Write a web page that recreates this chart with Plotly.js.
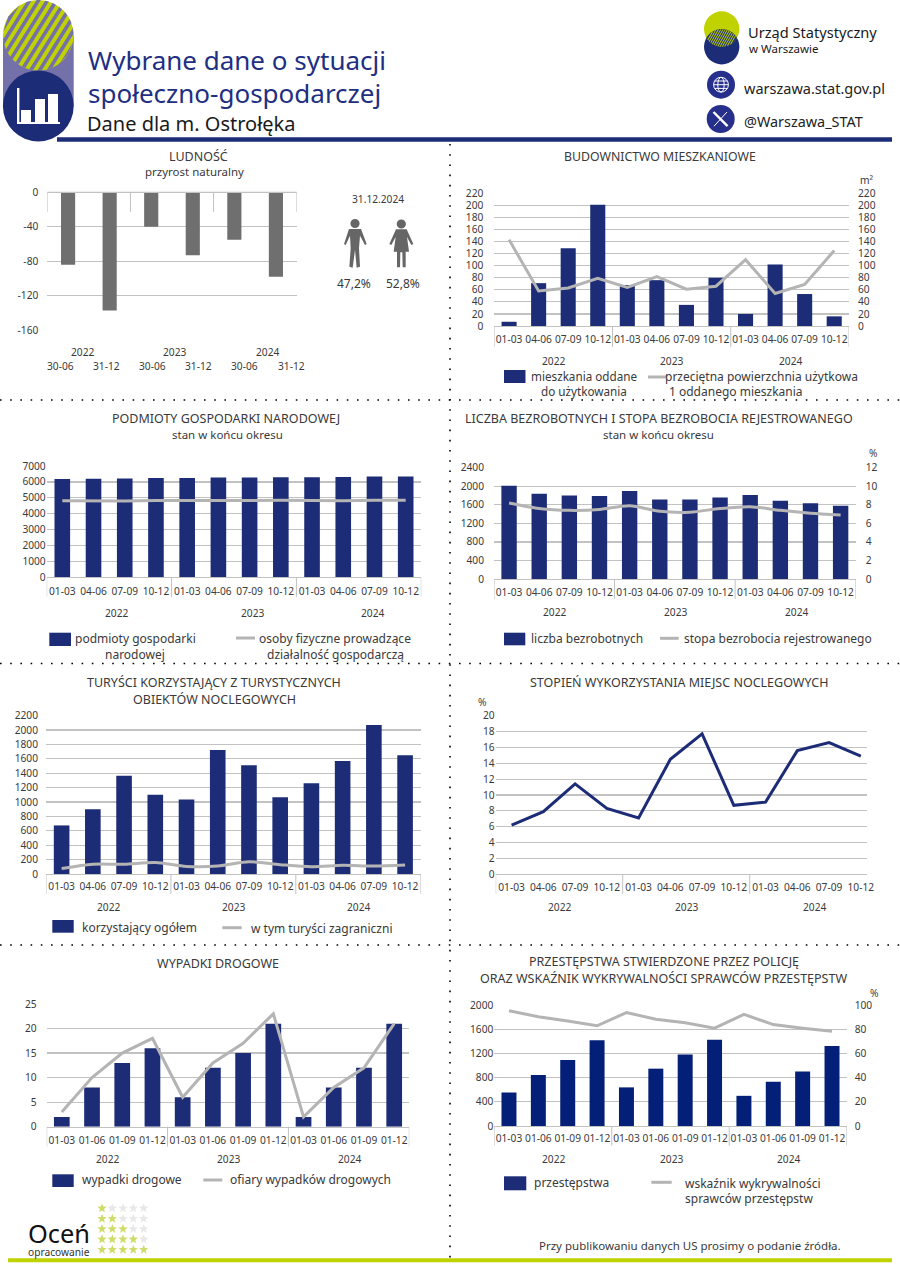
<!DOCTYPE html>
<html><head><meta charset="utf-8">
<script src="https://cdn.plot.ly/plotly-3.0.1.min.js"></script>
<style>html,body{margin:0;padding:0;background:#fff}</style></head>
<body><div id="chart" style="width:900px;height:1273px"></div>
<script>
// ---------- data ----------
const years = ['2022','2023','2024'];
const quarters = ['01-03','04-06','07-09','10-12'];
const cumulative = ['01-03','01-06','01-09','01-12'];
const halves = ['30-06','31-12'];
const populationTicks = [-160,-120,-80,-40,0];
const populationTickText = ['-160','-120','-80','-40','0'];

const naturalIncrease = [-84,-137,-40,-73,-55,-98];
const dwellings = [7,71,129,201,68,76,35,80,20,102,53,16];
const avgArea = [143,58,63,79,64,82,61,66,110,54,69,125];
const entities = [6190,6200,6220,6250,6250,6270,6280,6300,6300,6310,6340,6340];
const selfEmployed = [4810,4800,4800,4830,4820,4830,4830,4840,4810,4820,4850,4850];
const unemployed = [2010,1840,1800,1790,1895,1715,1715,1760,1810,1685,1635,1580];
const unemploymentRate = [8.2,7.6,7.4,7.5,7.9,7.3,7.2,7.6,7.8,7.4,7.1,6.9];
const tourists = [675,900,1365,1100,1035,1725,1510,1065,1260,1570,2070,1650];
const foreignTourists = [75,135,135,160,105,110,170,130,100,120,110,125];
const occupancy = [6.2,7.9,11.4,8.3,7.1,14.5,17.7,8.7,9.1,15.6,16.6,14.9];
const accidents = [2,8,13,16,6,12,15,21,2,8,12,21];
const victims = [3,10,15,18,6,13,17,23,2,8,12,21];
const crimes = [555,845,1095,1420,640,950,1185,1430,500,735,905,1325];
const detection = [95.5,90.5,87,83,94,88.5,85.5,81,92.5,84,81,78.5];

// ---------- styles ----------
const FONT = '"Noto Sans", sans-serif';
const TXT = '#3a3a3a', NAVY = '#1d2c77', NAVY2 = '#031f77', GREY = '#b4b4b4', BARGREY = '#6f6f6f',
      GRID = '#c2c2c2', GREEN = '#c0d200', PURPLE = '#7470aa';
const TICK = 10.2;
const px = x => x/900, py = y => 1-y/1273;

const data = [], shapes = [], annotations = [];
const layout = {width:900,height:1273,margin:{l:0,r:0,t:0,b:0,pad:0},paper_bgcolor:'#fff',plot_bgcolor:'rgba(0,0,0,0)',
  showlegend:false,hovermode:false,font:{family:FONT,color:TXT,size:TICK},shapes,annotations};

function text(t,x,y,size,o={}){
  annotations.push(Object.assign({text:t,xref:'paper',yref:'paper',x:px(x),y:py(y),showarrow:false,xanchor:'center',yanchor:'middle',
    font:{family:FONT,size:size,color:o.color||TXT},align:o.align||'center',borderpad:0},o.anchor?{xanchor:o.anchor}:{}));
}
function rect(x0,y0,x1,y1,fill){shapes.push({type:'rect',xref:'paper',yref:'paper',x0:px(x0),x1:px(x1),y0:py(y0),y1:py(y1),fillcolor:fill,line:{width:0}});}
function circle(cx,cy,r,fill,line){shapes.push({type:'circle',xref:'paper',yref:'paper',x0:px(cx-r),x1:px(cx+r),y0:py(cy-r),y1:py(cy+r),fillcolor:fill,line:line||{width:0}});}
function seg(x0,y0,x1,y1,color,w,dash){shapes.push({type:'line',xref:'paper',yref:'paper',x0:px(x0),x1:px(x1),y0:py(y0),y1:py(y1),line:{color:color,width:w,dash:dash||'solid'}});}
function poly(pts,fill,close=true){shapes.push({type:'path',xref:'paper',yref:'paper',path:'M'+pts.map(p=>px(p[0])+','+py(p[1])).join('L')+(close?'Z':''),fillcolor:fill,line:{width:0}});}

// panel: category plot positioned in pixels (y0 = top edge, y1 = bottom edge)
function panel(n,o){
  const keys = o.keys;
  const xk = 'xaxis'+(n===1?'':n), yk = 'yaxis'+(n===1?'':n);
  const xid = 'x'+(n===1?'':n), yid = 'y'+(n===1?'':n);
  layout[xk] = {domain:[px(o.x0),px(o.x1)],anchor:yid,type:'category',categoryorder:'array',categoryarray:keys,
    range:o.xrange||[-0.5,keys.length-0.5],autorange:false,tickmode:'array',tickvals:keys,ticktext:o.ticktext||[],
    showticklabels:!!o.ticktext,tickangle:0,ticks:'',ticklabelstandoff:o.xstand===undefined?4:o.xstand,showgrid:false,zeroline:false,
    showline:true,linecolor:GRID,linewidth:1,tickfont:{family:FONT,size:TICK,color:TXT},fixedrange:true};
  layout[yk] = {domain:[py(o.y1),py(o.y0)],anchor:xid,range:o.range,autorange:false,dtick:o.dtick,tick0:0,showgrid:true,gridcolor:GRID,gridwidth:1.2,
    zeroline:false,showline:false,ticks:'',ticklabelstandoff:o.ystand,tickfont:{family:FONT,size:TICK,color:TXT},fixedrange:true,tickformat:'d'};
  if(o.rightRange){
    const r = n+8;
    layout['yaxis'+r] = {domain:[py(o.y1),py(o.y0)],anchor:xid,overlaying:yid,side:'right',range:o.rightRange,autorange:false,dtick:o.rightDtick,tick0:0,
      showgrid:false,zeroline:false,showline:false,ticks:'',ticklabelstandoff:o.rstand,tickfont:{family:FONT,size:TICK,color:TXT},fixedrange:true,tickformat:'d'};
  }
  if(o.bars) data.push({type:'bar',name:o.barName,x:keys,y:o.bars,xaxis:xid,yaxis:yid,width:o.barW,marker:{color:o.barColor||NAVY,line:{width:0}}});
  if(o.line) data.push({type:'scatter',mode:'lines',name:o.lineName,x:keys,y:o.line,xaxis:xid,yaxis:o.rightRange?('y'+(n+8)):yid,
    line:{color:o.lineColor||GREY,width:o.lineW||3,shape:o.spline?'spline':'linear',smoothing:o.spline?0.8:undefined}});
  // year separators hanging under the axis
  (o.seps||[]).forEach(s=>{
    shapes.push({type:'line',xref:xid,yref:'paper',x0:s,x1:s,y0:py(o.y1),y1:py(o.sepTo),line:{color:GRID,width:1}});
  });
  (o.yearX||[]).forEach((x,i)=>text(years[i],x,o.yearY,TICK));
}
const qKeys = lab => years.flatMap(y=>lab.map(q=>y+' '+q));
const rep = lab => years.flatMap(()=>lab);
const SEPS = [-0.5,3.5,7.5,11.5];

// 1 Ludnosc
panel(1,{keys:years.flatMap(y=>halves.map(h=>y+' '+h)),x0:47.3,x1:296.7,y0:192.3,y1:330.3,range:[-160,0],dtick:40,ystand:8,
  bars:naturalIncrease,barName:'przyrost naturalny',barColor:BARGREY,barW:0.34});
layout.xaxis.showline=false;
Object.assign(layout.yaxis,{tickmode:'array',tickvals:populationTicks,ticktext:populationTickText});
[-0.5,1.5,3.5,5.5].forEach(s=>shapes.push({type:'line',xref:'x',yref:'paper',x0:s,x1:s,y0:py(192.3),y1:py(212),line:{color:GRID,width:1}}));
seg(47.3,192.3,296.7,192.3,GRID,1.2);
[82.7,174.7,267].forEach((x,i)=>text(years[i],x,351.7,TICK));
[60,106.7,152,198.7,244.3,291].forEach((x,i)=>text(halves[i%2],x,366.3,TICK));

// 2 Budownictwo
panel(2,{keys:qKeys(quarters),ticktext:rep(quarters),x0:494.3,x1:849,y0:193.3,y1:326,range:[0,220],dtick:20,ystand:10,rightRange:[0,220],rightDtick:20,rstand:8,
  bars:dwellings,barName:'mieszkania oddane do użytkowania',barW:0.51,line:avgArea,lineName:'przeciętna powierzchnia użytkowa 1 oddanego mieszkania',
  seps:SEPS,sepTo:347,yearX:[553.7,671.7,790],yearY:361});
// 3 Podmioty
panel(3,{keys:qKeys(quarters),ticktext:rep(quarters),x0:46.7,x1:421.3,y0:466,y1:577.3,range:[0,7000],dtick:1000,ystand:8.4,
  bars:entities,barName:'podmioty gospodarki narodowej',barW:0.5,line:selfEmployed,lineName:'osoby fizyczne prowadzące działalność gospodarczą',
  seps:SEPS,sepTo:596.7,yearX:[116,252,372],yearY:612.7});
// 4 Bezrobocie
panel(4,{keys:qKeys(quarters),ticktext:rep(quarters),x0:494,x1:855.7,y0:467.7,y1:579,range:[0,2400],dtick:400,ystand:9,rightRange:[0,12],rightDtick:2,rstand:9,
  bars:unemployed,barName:'liczba bezrobotnych',barW:0.51,line:unemploymentRate,lineName:'stopa bezrobocia rejestrowanego',spline:true,
  seps:SEPS,sepTo:599,yearX:[554.7,675,796],yearY:612});
// 5 Turysci
panel(5,{keys:qKeys(quarters),ticktext:rep(quarters),xstand:3,x0:46,x1:420.7,y0:715.7,y1:874,range:[0,2200],dtick:200,ystand:7,
  bars:tourists,barName:'korzystający ogółem',barW:0.5,line:foreignTourists,lineName:'w tym turyści zagraniczni',spline:true,
  seps:SEPS,sepTo:894,yearX:[108.7,233.3,358.7],yearY:907.3});
// 6 Oblozenie
panel(6,{keys:qKeys(quarters),ticktext:rep(quarters),xstand:3,x0:495.7,x1:866.7,xrange:[-0.5,11.185],y0:715.7,y1:874.3,range:[0,20],dtick:2,ystand:9.7,
  line:occupancy,lineName:'stopień wykorzystania miejsc noclegowych',lineColor:NAVY,
  seps:[-0.5,3.5,7.5],sepTo:894,yearX:[559.3,686.7,814],yearY:906.7});
// 7 Wypadki
panel(7,{keys:qKeys(cumulative),ticktext:rep(cumulative),x0:46.7,x1:409.3,y0:1004,y1:1126.7,range:[0,25],dtick:5,ystand:9,
  bars:accidents,barName:'wypadki drogowe',barW:0.52,line:victims,lineName:'ofiary wypadków drogowych',
  seps:SEPS,sepTo:1146.7,yearX:[107.3,228.7,349.7],yearY:1159.3});
// 8 Przestepstwa
panel(8,{keys:qKeys(cumulative),ticktext:rep(cumulative),xstand:3,x0:494.3,x1:846.7,y0:1005.3,y1:1126,range:[0,2000],dtick:400,ystand:9.3,rightRange:[0,100],rightDtick:20,rstand:7,
  bars:crimes,barName:'przestępstwa',barColor:NAVY2,barW:0.51,line:detection,lineName:'wskaźnik wykrywalności sprawców przestępstw',
  seps:SEPS,sepTo:1145.7,yearX:[553.3,671,788.7],yearY:1158.7});

// ---------- titles ----------
const T=12.5, S=11.5, L=12;
text('LUDNOŚĆ',198.7,156,T); text('przyrost naturalny',194.7,172,S);
text('BUDOWNICTWO MIESZKANIOWE',660,156,12.3);
text('m²',867.3,180.5,TICK);
text('PODMIOTY GOSPODARKI NARODOWEJ',226,418.3,T); text('stan w końcu okresu',227,434,S);
text('LICZBA BEZROBOTNYCH I STOPA BEZROBOCIA REJESTROWANEGO',659,418.3,T); text('stan w końcu okresu',658.7,434,S);
text('%',873,453,TICK);
text('TURYŚCI KORZYSTAJĄCY Z TURYSTYCZNYCH',214,682.3,T); text('OBIEKTÓW NOCLEGOWYCH',214,699,T);
text('STOPIEŃ WYKORZYSTANIA MIEJSC NOCLEGOWYCH',679,682.3,T);
text('%',482.3,701.7,TICK);
text('WYPADKI DROGOWE',217.7,963,T);
text('PRZESTĘPSTWA STWIERDZONE PRZEZ POLICJĘ',664,961.7,T);
text('ORAZ WSKAŹNIK WYKRYWALNOŚCI SPRAWCÓW PRZESTĘPSTW',663.7,978.3,T);
text('%',873.7,992.7,TICK);
text('Przy publikowaniu danych US prosimy o podanie źródła.',690.3,1245,11.5);

// ---------- legends ----------
function swatch(x0,y0,x1,y1,c){rect(x0,y0,x1,y1,c||NAVY);}
function ll(x0,x1,y){seg(x0,y,x1,y,GREY,3);}
swatch(504,370,525.5,383); text('mieszkania oddane',583.7,376,11.7); text('do użytkowania',583.7,391,11.7);
ll(648,667,377); text('przeciętna powierzchnia użytkowa',761.5,376,L); text('1 oddanego mieszkania',736,391,L);
swatch(49.3,632.7,71,646); text('podmioty gospodarki',135,639,L); text('narodowej',135,654,L);
ll(236,255,638); text('osoby fizyczne prowadzące',335,639,L); text('działalność gospodarczą',335,654,L);
swatch(504,632.7,525.3,645.3); text('liczba bezrobotnych',586.7,639,L);
ll(660,678.7,638.3); text('stopa bezrobocia rejestrowanego',778,638.5,L);
swatch(52.3,920,73.7,932.7); text('korzystający ogółem',139.3,927.7,L);
ll(222.3,241.7,927.7); text('w tym turyści zagraniczni',321.7,929,L);
swatch(52.3,1174.3,73.7,1187); text('wypadki drogowe',132,1179.3,L);
ll(203.3,222.3,1180); text('ofiary wypadków drogowych',310.3,1179.3,L);
swatch(504,1176.3,526.3,1190.3,NAVY); text('przestępstwa',571.8,1182,L);
ll(651.3,671.7,1182.3); text('wskaźnik wykrywalności',684.3,1183.7,L,{anchor:'left'}); text('sprawców przestępstw',684.3,1198.3,L,{anchor:'left'});

// ---------- dividers ----------
seg(450,144,450,1262,'#000',1.6,'1.6px,8.6px');
[400,663.5,945].forEach(y=>seg(0,y,900,y,'#000',1.6,'1.6px,8.6px'));
rect(57,137.3,892,141.7,NAVY);
rect(8,1258.3,892,1262.3,GREEN);

// ---------- header graphics ----------
function stripes(cx,cy,r,period,w,color,angleDeg){
  const a=angleDeg*Math.PI/180, dx=Math.cos(a), dy=-Math.sin(a), nx=-dy, ny=dx;
  for(let d=-r;d<r;d+=period){
    const d2=Math.min(d+w,r);
    const h1=Math.sqrt(Math.max(r*r-d*d,0)), h2=Math.sqrt(Math.max(r*r-d2*d2,0));
    poly([[cx+nx*d-dx*h1,cy+ny*d-dy*h1],[cx+nx*d+dx*h1,cy+ny*d+dy*h1],[cx+nx*d2+dx*h2,cy+ny*d2+dy*h2],[cx+nx*d2-dx*h2,cy+ny*d2-dy*h2]],color);
  }
}
rect(3,35,73.7,106,PURPLE);
circle(38.3,35.3,35.3,GREEN);
stripes(38.3,35.3,35.3,7.6,3.6,PURPLE,58);
circle(38.3,106,35.4,NAVY);
rect(17,88,19.4,124,'#fff'); rect(17,122,60,124,'#fff');
rect(21,110,31,122,'#fff'); rect(35,99,45,122,'#fff'); rect(48,94,58,122,'#fff');
text('Wybrane dane o sytuacji',87,60.5,26,{anchor:'left',color:'#1f2f82'});
text('społeczno-gospodarczej',87,93,26,{anchor:'left',color:'#1f2f82'});
text('Dane dla m. Ostrołęka',86,123.5,20,{anchor:'left',color:'#1a1a1a'});

// logo: two overlapping circles with a hatched overlap
const LX=721.7, LTOP=29, LBOT=46.7, LR=17.7;
circle(LX,LBOT,LR,NAVY);
circle(LX,LTOP,LR,GREEN);
const hw=Math.sqrt(LR*LR-(LBOT-LTOP)*(LBOT-LTOP)/4), lens=[];
for(let i=0;i<=24;i++){const x=LX+(-1+i/12)*hw;lens.push([x,LBOT-Math.sqrt(LR*LR-(x-LX)*(x-LX))]);}
for(let i=24;i>=0;i--){const x=LX+(-1+i/12)*hw;lens.push([x,LTOP+Math.sqrt(LR*LR-(x-LX)*(x-LX))]);}
poly(lens,NAVY);
const inLens=(x,y)=>Math.hypot(x-LX,y-LTOP)<=LR && Math.hypot(x-LX,y-LBOT)<=LR;
for(let c=LX-34;c<LX+34;c+=2.3){
  const ends=off=>{const pts=[];for(let t=-24;t<=24;t+=0.25){const x=c+off+t*0.5,y=(LTOP+LBOT)/2-t*0.866;if(inLens(x,y))pts.push([x,y]);}return pts;};
  const a=ends(0), b=ends(1.1);
  if(a.length>1&&b.length>1) poly([a[0],a[a.length-1],b[b.length-1],b[0]],GREEN);
}
text('Urząd Statystyczny',747.3,31.5,14.6,{anchor:'left',color:'#1a1a1a'});
text('w Warszawie',747.5,48,11.5,{anchor:'left',color:'#1a1a1a'});
circle(721,84.7,14,'#262f8c');
circle(721,84.7,7.4,'rgba(0,0,0,0)',{color:'#fff',width:1});
shapes.push({type:'circle',xref:'paper',yref:'paper',x0:px(717.8),x1:px(724.2),y0:py(77.3),y1:py(92.1),line:{color:'#fff',width:1}});
seg(713.6,84.7,728.4,84.7,'#fff',1); seg(714.6,81,727.4,81,'#fff',1); seg(714.6,88.4,727.4,88.4,'#fff',1);
text('warszawa.stat.gov.pl',742.7,87.7,14.5,{anchor:'left',color:'#222'});
circle(720.7,119,14,'#262f8c');
seg(713.5,112,727.5,126.2,'#fff',2.4); seg(727,112,714,126.2,'#fff',1);
text('@Warszawa_STAT',742.7,121.7,14.4,{anchor:'left',color:'#222'});

// people
const zp=pts=>pts.map(p=>[335+p[0]/3,215+p[1]/3]);
circle(355,223.5,4.6,'#666');
poly(zp([[27,87],[42,42],[78,42],[95,87],[90,90],[75,62],[72,100],[75,155],[65,158],[60,105],[53,158],[43,155],[47,100],[45,62],[32,90]]),'#666');
circle(401.3,224,4.6,'#666');
poly(zp([[183,43],[215,43],[235,87],[229,90],[216,66],[222,110],[212,110],[212,157],[203,157],[202,112],[196,112],[195,157],[186,157],[186,110],[176,110],[182,66],[169,90],[163,87]]),'#666');
text('31.12.2024',377.7,199.3,10.2);
text('47,2%',353.7,284,12); text('52,8%',402.7,284,12);

// ocen + stars
function star(cx,cy,r,c){const p=[];for(let i=0;i<10;i++){const a=-Math.PI/2+i*Math.PI/5,q=i%2?r*0.42:r;p.push([cx+q*Math.cos(a),cy+q*Math.sin(a)]);}poly(p,c);}
[1208.3,1218.7,1229,1239.3,1249.7].forEach((y,row)=>[102,112.3,123,133.3,143.7].forEach((x,col)=>star(x,y,5,col<=row?'#cfdc6a':'#e8e8e8')));
text('Oceń',26.5,1232.5,25.4,{anchor:'left',color:'#111'});
text('opracowanie',26.5,1251.5,10.2,{anchor:'left',color:'#333'});

Plotly.newPlot('chart',data,layout,{displayModeBar:false,staticPlot:true});
</script></body></html>
